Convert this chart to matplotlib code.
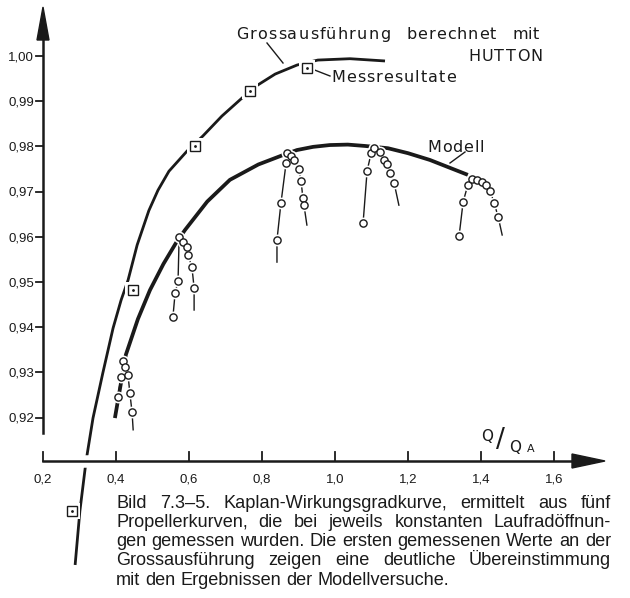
import numpy as np
import matplotlib
matplotlib.use("Agg")
import matplotlib.pyplot as plt
from matplotlib.patches import Polygon

# --- Wirkungsgrad-Daten ---
# Grossausfuehrung berechnet mit HUTTON
hutton_q = [0.288, 0.301, 0.318, 0.337, 0.364, 0.392, 0.414, 0.433, 0.458,
            0.490, 0.515, 0.545, 0.595, 0.638, 0.690, 0.748, 0.775, 0.836,
            0.896, 0.953, 1.041, 1.137]
hutton_eta = [0.8874, 0.8993, 0.9104, 0.9199, 0.9299, 0.9398, 0.9460, 0.9504,
              0.9582, 0.9658, 0.9703, 0.9745, 0.9790, 0.9823, 0.9867, 0.9909,
              0.9929, 0.9960, 0.9980, 0.9991, 0.9994, 0.9989]

# Messresultate an der Grossausfuehrung
mess_q = [0.279, 0.447, 0.616, 0.767, 0.923]
mess_eta = [0.8993, 0.9482, 0.9801, 0.9923, 0.9974]

# Modell (Einhuellende)
modell_q = [0.397, 0.427, 0.460, 0.493, 0.530, 0.564, 0.589, 0.650, 0.712,
            0.790, 0.858, 0.896, 0.940, 0.986, 1.035, 1.082, 1.145, 1.200,
            1.260, 1.364]
modell_eta = [0.9199, 0.9339, 0.9418, 0.9482, 0.9540, 0.9586, 0.9615, 0.9678,
              0.9726, 0.9760, 0.9781, 0.9792, 0.9799, 0.9803, 0.9804, 0.9801,
              0.9796, 0.9785, 0.9770, 0.9737]

# Propellerkurven (fuenf Laufradoeffnungen)
g1_q = [0.405, 0.414, 0.419, 0.425, 0.433, 0.438, 0.444]
g1_eta = [0.9246, 0.9290, 0.9325, 0.9312, 0.9294, 0.9254, 0.9212]
g2_q = [0.556, 0.562, 0.570, 0.573, 0.584, 0.595, 0.597, 0.608, 0.614]
g2_eta = [0.9423, 0.9476, 0.9502, 0.9600, 0.9588, 0.9577, 0.9560, 0.9533, 0.9487]
g3_q = [0.841, 0.852, 0.866, 0.868, 0.879, 0.888, 0.901, 0.907, 0.912, 0.915]
g3_eta = [0.9593, 0.9675, 0.9763, 0.9785, 0.9779, 0.9770, 0.9750, 0.9724, 0.9686, 0.9670]
g4_q = [1.077, 1.088, 1.099, 1.107, 1.123, 1.134, 1.142, 1.151, 1.162]
g4_eta = [0.9631, 0.9746, 0.9785, 0.9797, 0.9788, 0.9770, 0.9761, 0.9741, 0.9719]
g5_q = [1.340, 1.351, 1.364, 1.375, 1.389, 1.403, 1.414, 1.425, 1.436, 1.447]
g5_eta = [0.9602, 0.9677, 0.9715, 0.9728, 0.9726, 0.9721, 0.9715, 0.9701, 0.9675, 0.9644]

# auslaufende Linienenden der Propellerkurven (None = keins)
tail_left = [None, None, (0.841, 0.9544), None, None]
tail_right = [(0.447, 0.9173), (0.614, 0.9438), (0.923, 0.9626), (1.175, 0.9670), (1.458, 0.9604)]

xticks = [0.2, 0.4, 0.6, 0.8, 1.0, 1.2, 1.4, 1.6]
xlabels = ["0,2", "0,4", "0,6", "0,8", "1,0", "1,2", "1,4", "1,6"]
yticks = [1.00, 0.99, 0.98, 0.97, 0.96, 0.95, 0.94, 0.93, 0.92]
ylabels = ["1,00", "0,99", "0,98", "0,97", "0,96", "0,95", "0,94", "0,93", "0,92"]

caption = ["Bild 7.3–5. Kaplan-Wirkungsgradkurve, ermittelt aus fünf",
           "Propellerkurven, die bei jeweils konstanten Laufradöffnun-",
           "gen gemessen wurden. Die ersten gemessenen Werte an der",
           "Grossausführung zeigen eine deutliche Übereinstimmung",
           "mit den Ergebnissen der Modellversuche."]

INK = "#1a1a1a"

# --- figure: one axes over the whole canvas ---
fig = plt.figure(figsize=(6.3, 5.98), dpi=100)
ax = fig.add_axes([0, 0, 1, 1])
ax.set_xlim(0.2 - 43 / 365, 0.2 + 587 / 365)
ax.set_ylim(1 - 542 / 4520, 1 + 56 / 4520)
ax.axis("off")
fig.canvas.draw()
renderer = fig.canvas.get_renderer()


def px(x, y):
    # pixel position -> data coordinates (for annotations only)
    return 0.2 + (x - 43) / 365, 1 - (y - 56) / 4520


def lettered(x0, x1, y, word, size=11.5):
    # stencil-like lettering: spread one word from x0 to x1 (pixels, baseline y)
    chars = [ax.text(0, 0, ch, fontsize=size, ha="left", va="baseline", color=INK)
             for ch in word]
    widths = [c.get_window_extent(renderer).width for c in chars]
    track = (x1 - x0 - sum(widths)) / max(len(word) - 1, 1)
    x = x0
    for c, w in zip(chars, widths):
        c.set_position(px(x, y))
        x += w + track


# axes with arrows
x_axis_y = px(0, 461)[1]
ax.plot([0.2, px(575, 0)[0]], [x_axis_y, x_axis_y], color="white", lw=9, zorder=3,
        solid_capstyle="butt")
ax.plot([0.2, px(578, 0)[0]], [x_axis_y, x_axis_y], color=INK, lw=1.8, zorder=4)
ax.plot([0.2, 0.2], [px(0, 433)[1], px(0, 36)[1]], color=INK, lw=1.8, zorder=4)
ax.add_patch(Polygon([px(605, 461), px(572, 454), px(572, 468)], closed=True,
                     color=INK, zorder=4))
ax.add_patch(Polygon([px(43, 7), px(37, 40), px(49, 40)], closed=True,
                     color=INK, zorder=4))

for t, lab in zip(xticks, xlabels):
    ax.plot([t, t], [x_axis_y, px(0, 452)[1]], color=INK, lw=1.3, zorder=4)
    ax.text(t, px(0, 479)[1], lab, ha="center", va="center", fontsize=9.5,
            family="Liberation Sans", color=INK)
for t, lab in zip(yticks, ylabels):
    ax.plot([px(36, 0)[0], 0.2], [t, t], color=INK, lw=1.3, zorder=4)
    ax.text(px(34, 0)[0], t - 0.0003, lab, ha="right", va="center", fontsize=9.5,
            family="Liberation Sans", color=INK)

# curves
ax.plot(hutton_q, hutton_eta, color=INK, lw=2.0, zorder=2, solid_capstyle="butt")
ax.plot(modell_q, modell_eta, color=INK, lw=2.7, zorder=2, solid_capstyle="butt")

groups = [(g1_q, g1_eta), (g2_q, g2_eta), (g3_q, g3_eta), (g4_q, g4_eta), (g5_q, g5_eta)]
for (q, eta), tl, tr in zip(groups, tail_left, tail_right):
    lq, le = list(q), list(eta)
    if tl is not None:
        lq, le = [tl[0]] + lq, [tl[1]] + le
    if tr is not None:
        lq, le = lq + [tr[0]], le + [tr[1]]
    ax.plot(lq, le, color=INK, lw=1.0, zorder=2)

for q, eta in groups:
    ax.plot(q, eta, ls="none", marker="o", ms=8.5, mfc="white", mec="white",
            mew=0, zorder=5)
for q, eta in groups:
    ax.plot(q, eta, ls="none", marker="o", ms=5.2, mfc="white", mec=INK,
            mew=1.0, zorder=6)

ax.plot(mess_q, mess_eta, ls="none", marker="s", ms=11, mfc="white", mec="white",
        mew=0, zorder=5)
ax.plot(mess_q, mess_eta, ls="none", marker="s", ms=7.5, mfc="white", mec=INK,
        mew=1.0, zorder=6)
ax.plot(mess_q, mess_eta, ls="none", marker=".", ms=2, color=INK, zorder=7)

# labels and leader lines
lettered(236, 390, 39, "Grossausführung")
lettered(406, 496, 39, "berechnet")
lettered(512, 539, 39, "mit")
lettered(468, 543, 61, "HUTTON")
lettered(331, 456, 82, "Messresultate")
lettered(427, 484, 152, "Modell")
for a, b in [((267, 43), (283, 63)), ((312, 69), (330, 76)), ((465, 152), (450, 163))]:
    p, r = px(*a), px(*b)
    ax.plot([p[0], r[0]], [p[1], r[1]], color=INK, lw=1.0, zorder=3)

ax.text(*px(487, 441), "Q", fontsize=11, ha="center", va="baseline", color=INK)
ax.text(*px(500, 447), "/", fontsize=19, ha="center", va="baseline", color=INK)
ax.text(*px(515, 452), "Q", fontsize=11, ha="center", va="baseline", color=INK)
ax.text(*px(531, 452), "A", fontsize=8, ha="center", va="baseline", color=INK)

# justified caption, font size fitted to the tightest line
left, right = 116, 611
baselines = [508, 527, 546, 565, 585]
probe = fig.text(0, 0, " ".join(caption[2].split()), fontsize=11, family="Liberation Sans")
fsize = 11 * (right - left) / probe.get_window_extent(renderer).width
probe.remove()
for i, (line, yb) in enumerate(zip(caption, baselines)):
    words = line.split(" ")
    texts = [fig.text(0, 0, w, fontsize=fsize, family="Liberation Sans", color=INK,
                      va="baseline") for w in words]
    widths = [t.get_window_extent(renderer).width for t in texts]
    if i < len(caption) - 1:
        gap = (right - left - sum(widths)) / (len(words) - 1)
    else:
        gap = fsize * 100 / 72 * 0.28
    x = left
    for t, w in zip(texts, widths):
        t.set_position((x / 630, 1 - yb / 598))
        x += w + gap

fig.savefig("out.png", dpi=100, facecolor="white")
